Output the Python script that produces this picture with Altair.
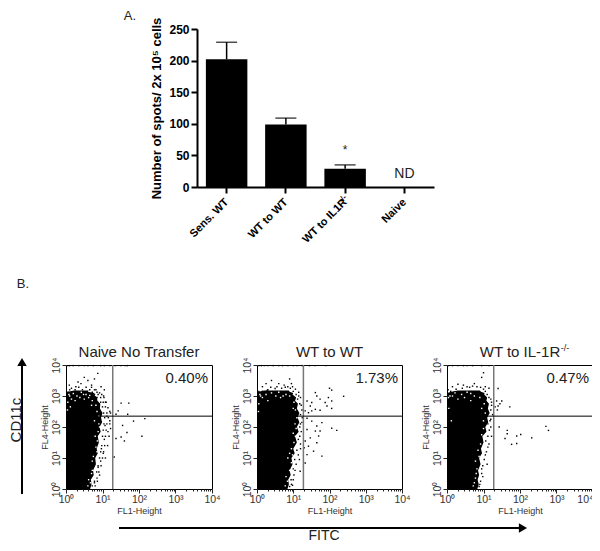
import altair as alt
import pandas as pd

FONT = "Liberation Sans"

# ---------- Panel A ----------
categories = ["Sens. WT", "WT to WT", "WT to IL1R\u00a0\u00a0", "Naive"]
bar_means = [202, 99, 29, 0]
bar_upper = [229, 109, 35, 0]
y_ticks = [0, 50, 100, 150, 200, 250]

# ---------- Panel B: values in log10 units ----------
decades = [1, 10, 100, 1000, 10000]
minor = [m * d for d in [1, 10, 100, 1000] for m in range(1, 10)] + [10000]
gate_x_log = 1.28
gate_y_log = 2.35

cloud_lvl = [0, 0.15, 0.3, 0.45, 0.6, 0.8, 1, 1.15, 1.3, 1.5, 1.7, 1.85, 2, 2.15, 2.3, 2.45, 2.6, 2.75, 2.85, 2.95,
             3.05, 3.1, 3.14, 3.18]
p1_right = [0.66, 0.7, 0.68, 0.76, 0.74, 0.82, 0.8, 0.87, 0.84, 0.9, 0.87, 0.95, 0.92, 0.99, 0.96, 1.0, 0.93, 0.94,
            0.86, 0.85, 0.76, 0.78, 0.6, 0.62]
p1_left = [0] * 22 + [0.05, 0.22]
p2_right = [0.84, 0.88, 0.86, 0.93, 0.9, 0.98, 0.95, 1.04, 1.0, 1.1, 1.05, 1.15, 1.1, 1.17, 1.12, 1.17, 1.1, 1.13,
            1.05, 1.08, 0.98, 1.0, 0.9, 0.88]
p2_left = [0] * 22 + [0.04, 0.2]
p3_right = [0.83, 0.87, 0.84, 0.88, 0.85, 0.92, 0.88, 0.96, 0.93, 1.0, 0.97, 1.08, 1.05, 1.13, 1.1, 1.17, 1.12, 1.15,
            1.08, 1.1, 1.02, 1.03, 0.93, 0.9]
p3_left = [0] * 22 + [0.12, 0.3]

p1_black = [(0.05, 3.98), (0.1, 3.98), (0.2, 3.98), (0.35, 3.98), (0.5, 3.98), (0.6, 3.98), (0.75, 3.98),
            (0.95, 3.98), (1.05, 3.98), (1.2, 3.98), (1.35, 3.98), (1.5, 3.98), (1.62, 3.98), (1.68, 3.98),
            (0.5, 3.6), (0.87, 3.73), (0.6, 3.5), (0.96, 3.3), (0.82, 3.2), (0.27, 3.3), (0.09, 3.35), (0.41, 3.4),
            (1.05, 3.2), (0.7, 3.35), (0.78, 3.55), (0.15, 3.25), (0.33, 3.45), (0.92, 3.1), (1.03, 3.0), (1.08, 2.8),
            (1.15, 2.62), (1.2, 2.5), (1.12, 2.35), (1.2, 2.2), (1.07, 2.05), (1.15, 1.85), (1.05, 1.6), (0.97, 1.3),
            (1.02, 1.15), (0.95, 0.9), (0.88, 0.7), (0.92, 0.45), (0.78, 0.2), (1.22, 1.95), (0.85, 0.35),
            (1.51, 2.77), (1.72, 2.77), (1.69, 2.41), (1.85, 2.19), (2.16, 2.27), (1.55, 2.05), (1.67, 1.82),
            (1.51, 1.68), (1.60, 1.55), (2.08, 1.70), (1.37, 1.63), (1.32, 1.03), (1.37, 2.41), (1.43, 2.52),
            (0.72, 0.1), (0.8, 0.1), (0.78, 0.25), (0.86, 0.25), (0.84, 0.55), (0.9, 0.55), (0.88, 0.75), (0.96, 0.75),
            (0.92, 1.0), (1.0, 1.0), (1.08, 1.0), (0.95, 1.2), (1.03, 1.2), (0.98, 1.4), (1.06, 1.4), (1.14, 1.4),
            (1.0, 1.7), (1.08, 1.7), (1.18, 1.7), (1.02, 1.9), (1.1, 1.9), (1.04, 2.1), (1.12, 2.1), (1.2, 2.1),
            (1.06, 2.3), (1.16, 2.3), (1.03, 2.45), (1.12, 2.45), (1.22, 2.45), (1.0, 2.65), (1.08, 2.65),
            (0.95, 2.8), (1.02, 2.8), (1.1, 2.8), (0.85, 2.95), (0.95, 2.95), (1.04, 2.95), (0.78, 3.05), (0.88, 3.05),
            (0.98, 3.05), (0.05, 3.12), (0.2, 3.12), (0.3, 3.12), (0.72, 3.12), (0.85, 3.12), (0.1, 3.2), (0.25, 3.2),
            (0.45, 3.2), (0.65, 3.2), (0.78, 3.2), (0.35, 3.28), (0.55, 3.28), (0.7, 3.28)]
p1_white = [(0.1, 3.0), (0.2, 3.08), (0.05, 2.8), (0.3, 3.0), (0.42, 3.12), (0.55, 3.05), (0.7, 2.7), (0.85, 2.5),
            (0.9, 2.1), (0.8, 1.7), (0.85, 1.2), (0.72, 0.9), (0.62, 0.3), (0.7, 0.5), (0.5, 2.9), (0.78, 2.2),
            (0.6, 0.1), (0.67, 0.2), (0.72, 0.6), (0.75, 1.05), (0.82, 1.35), (0.86, 1.55), (0.88, 1.85), (0.92, 2.0),
            (0.9, 2.35), (0.82, 2.7), (0.72, 2.85), (0.62, 2.95), (0.15, 2.9), (0.08, 3.05), (0.25, 2.85), (0.38, 2.95),
            (0.48, 3.05), (0.65, 3.02), (0.04, 2.55), (0.12, 2.65)]

p2_black = [(0.05, 3.98), (0.12, 3.98), (0.2, 3.98), (0.3, 3.98), (0.45, 3.98), (0.6, 3.98), (0.7, 3.98),
            (0.85, 3.98), (1.0, 3.98), (1.1, 3.98), (1.25, 3.98), (1.45, 3.98), (1.6, 3.98), (1.9, 3.98),
            (0.25, 3.4), (0.4, 3.5), (0.6, 3.4), (0.75, 3.35), (0.9, 3.55), (0.95, 3.4), (0.85, 3.3), (0.55, 3.3),
            (0.15, 3.3), (0.3, 3.2), (1.15, 3.0), (1.22, 2.7), (1.25, 2.3), (1.2, 2.1), (1.18, 1.7), (1.2, 1.3),
            (1.17, 0.95), (1.05, 0.6), (1.0, 0.3), (0.95, 0.15),
            (2.0, 3.25), (2.06, 3.19), (2.39, 2.99), (1.97, 2.95), (2.06, 2.84), (1.61, 3.11), (1.65, 3.0), (1.74, 2.9),
            (1.38, 2.84), (1.51, 2.79), (1.88, 2.79), (1.47, 2.68), (1.61, 2.57), (1.74, 2.54), (2.06, 2.6), (1.33, 2.52),
            (1.42, 2.46), (1.51, 2.52), (1.93, 2.68), (1.38, 2.28), (1.51, 2.19), (1.65, 2.03), (1.79, 2.14), (2.06, 1.96),
            (2.2, 1.89), (1.38, 1.92), (1.61, 1.87), (1.74, 1.87), (1.47, 1.65), (1.7, 1.71), (1.33, 1.55), (1.42, 1.38),
            (1.65, 1.49), (1.38, 1.11), (1.79, 1.06), (1.56, 1.22), (1.33, 0.84), (1.19, 0.57), (1.3, 1.33),
            (0.9, 0.08), (0.98, 0.12), (0.94, 0.3), (1.02, 0.45), (1.0, 0.65), (1.08, 0.8), (1.04, 0.95), (1.14, 1.1),
            (1.1, 1.25), (1.2, 1.45), (1.14, 1.6), (1.22, 1.85), (1.18, 2.0), (1.24, 2.15), (1.2, 2.4), (1.24, 2.55),
            (1.18, 2.75), (1.12, 2.9), (1.2, 2.95), (1.08, 3.05), (1.15, 3.12), (1.0, 3.15), (1.06, 3.22), (0.92, 3.25),
            (0.98, 3.3), (0.05, 3.15), (0.15, 3.15), (0.28, 3.18), (0.38, 3.28), (0.5, 3.24), (0.68, 3.25), (0.78, 3.28)]
p2_white = [(0.1, 3.0), (0.25, 3.05), (0.05, 2.75), (0.4, 3.1), (0.6, 3.12), (0.8, 3.05), (1.0, 2.6), (1.05, 2.1),
            (1.0, 1.8), (0.95, 1.3), (0.85, 1.0), (0.9, 0.6), (0.95, 0.85), (0.8, 0.4), (0.3, 2.85), (0.65, 2.95),
            (0.78, 0.1), (0.84, 0.25), (1.02, 1.5), (1.06, 1.7), (1.08, 1.95), (1.1, 2.3), (1.06, 2.55), (1.02, 2.8),
            (0.9, 3.0), (0.15, 2.95), (0.08, 3.05), (0.52, 3.0), (0.72, 3.0), (0.9, 1.15), (0.98, 1.1), (0.04, 2.5)]

p3_black = [(0.05, 3.98), (0.15, 3.98), (0.3, 3.98), (0.45, 3.98), (0.55, 3.98), (0.7, 3.98), (0.95, 3.98), (1.15, 3.98),
            (0.15, 3.3), (0.3, 3.38), (0.45, 3.35), (0.55, 3.3), (0.75, 3.4), (0.95, 3.6), (1.0, 3.75), (1.05, 3.3),
            (1.15, 3.25), (1.2, 2.9), (1.22, 2.7), (1.25, 2.4), (1.18, 2.2), (1.2, 2.0), (1.22, 1.7), (1.15, 1.45),
            (1.05, 1.1), (0.95, 0.65), (0.98, 0.4), (0.9, 0.15), (1.1, 0.8),
            (1.4, 3.24), (1.5, 2.84), (1.36, 2.84), (1.4, 2.68), (1.72, 2.65), (1.38, 2.55), (1.43, 2.0), (1.65, 1.89),
            (1.65, 1.78), (1.59, 1.63), (1.91, 1.71), (2.02, 1.76), (2.32, 1.65), (1.77, 1.44), (1.91, 1.47), (2.71, 2.02),
            (2.78, 1.89), (1.32, 2.65), (1.45, 2.75),
            (0.88, 0.08), (0.92, 0.25), (0.95, 0.5), (0.98, 0.75), (1.02, 0.95), (1.08, 1.2), (1.12, 1.35), (1.06, 1.55),
            (1.12, 1.7), (1.16, 1.9), (1.12, 2.1), (1.2, 2.25), (1.2, 2.55), (1.22, 2.8), (1.15, 2.95), (1.1, 3.05),
            (1.05, 3.15), (1.0, 3.22), (0.92, 3.28), (0.82, 3.3), (0.7, 3.32), (0.62, 3.28), (0.42, 3.25), (0.25, 3.22),
            (0.1, 3.15), (0.2, 3.12), (0.03, 3.2)]
p3_white = [(0.08, 3.0), (0.22, 3.1), (0.05, 2.6), (0.4, 3.05), (0.55, 3.12), (0.75, 3.0), (0.95, 2.6), (1.0, 2.2),
            (0.95, 1.75), (0.85, 1.25), (0.78, 0.9), (0.8, 0.5), (0.75, 0.2), (0.3, 2.9), (0.65, 2.85), (0.12, 2.2),
            (0.82, 0.65), (0.88, 1.05), (0.92, 1.45), (1.0, 1.95), (1.05, 2.45), (1.02, 2.75), (0.9, 2.95), (0.65, 3.08),
            (0.15, 3.0), (0.04, 2.95), (0.48, 2.95), (0.72, 0.1), (0.78, 0.35)]

panels = [
    dict(title="Naive No Transfer", pct="0.40%", w=146, lvl=cloud_lvl, right=p1_right, left=p1_left,
         black=p1_black, white=p1_white, flush=False),
    dict(title="WT to WT", pct="1.73%", w=145, lvl=cloud_lvl, right=p2_right, left=p2_left,
         black=p2_black, white=p2_white, flush=False),
    dict(title="WT to IL-1R", pct="0.47%", w=146, lvl=cloud_lvl, right=p3_right, left=p3_left,
         black=p3_black, white=p3_white, flush=True),
]

one = pd.DataFrame({"a": [0]})


def annotation(text, x, y, **kw):
    opts = dict(font=FONT, fontSize=13, color="#222")
    opts.update(kw)
    return alt.Chart(one).mark_text(**opts).encode(
        x=alt.value(x), y=alt.value(y), text=alt.value(text))


# ---------- bars ----------
bar_df = pd.DataFrame({"cat": categories, "mean": bar_means, "upper": bar_upper})
x_scale = alt.Scale(paddingInner=0.3, paddingOuter=0.15)
x_axis_a = alt.Axis(labelAngle=-45, labelFontWeight="bold", labelFontSize=11, labelFont=FONT,
                    labelColor="black", domainWidth=2, domainColor="black", tickWidth=2,
                    tickColor="black", tickSize=6, labelPadding=3, labelOverlap=False, labelOffset=-4)
x_enc = alt.X("cat:N", sort=categories, title=None, scale=x_scale, axis=x_axis_a)
y_scale = alt.Scale(domain=[0, 250])
y_title = "Number of spots/ 2x 10\u2075 cells"
y_axis_a = alt.Axis(values=y_ticks, grid=False, labelFontWeight="bold", labelFontSize=12, labelFont=FONT,
                    labelColor="black", domainWidth=2, domainColor="black", tickWidth=2, labelOverlap=False,
                    tickColor="black", tickSize=6, titleFont=FONT, titleFontSize=13,
                    titleFontWeight="bold", titleColor="black", titlePadding=5)


def y_of(field):
    return alt.Y(field, scale=y_scale, title=y_title, axis=y_axis_a)


bars = alt.Chart(bar_df).mark_bar(color="black").encode(x=x_enc, y=y_of("mean:Q"))
err_df = bar_df[bar_df["upper"] > 0]
err = alt.Chart(err_df).mark_rule(color="black", strokeWidth=1.5).encode(
    x=x_enc, y=y_of("mean:Q"), y2="upper:Q")
caps = alt.Chart(err_df).mark_tick(color="black", thickness=1.5, size=21).encode(
    x=x_enc, y=y_of("upper:Q"))
notes = pd.DataFrame({"cat": [categories[2], categories[3]], "lab": ["*", "ND"], "val": [59, 21]})
note_star = alt.Chart(notes.iloc[[0]]).mark_text(font=FONT, fontSize=12, color="#222").encode(
    x=x_enc, y=y_of("val:Q"), text="lab:N")
note_nd = alt.Chart(notes.iloc[[1]]).mark_text(font=FONT, fontSize=14, color="#222").encode(
    x=x_enc, y=y_of("val:Q"), text="lab:N")
sup_bar = alt.Chart(one).mark_text(font=FONT, fontSize=8, fontWeight="bold", angle=315, color="black").encode(
    x=alt.value(146), y=alt.value(170), text=alt.value("-/-"))
chart_a = alt.layer(bars, err, caps, note_star, note_nd, sup_bar,
                    annotation("A.", -67, -13, fontSize=13)).properties(width=237, height=158)

spacer = alt.Chart(one).mark_text(opacity=0).encode(text=alt.value("")).properties(width=131, height=158)
top_row = alt.hconcat(spacer, chart_a, spacing=0, bounds="flush")


# ---------- flow panels ----------
is_major = "indexof([1, 10, 100, 1000, 10000], datum.value) >= 0"
label_expr = ("datum.value == 1 ? '10\u2070' : datum.value == 10 ? '10\u00b9' : datum.value == 100 ? '10\u00b2' : "
              "datum.value == 1000 ? '10\u00b3' : datum.value == 10000 ? '10\u2074' : ''")


def flow_panel(p, extras):
    log_x = alt.Scale(type="log", domain=[1, 10000], nice=False)
    log_y = alt.Scale(type="log", domain=[1, 10000], nice=False)
    x_kw = dict(labelAlign={"condition": {"test": "datum.value == 10000", "value": "right"}, "value": "center"}) if p["flush"] else {}
    x_axis = alt.Axis(values=minor, labelExpr=label_expr, grid=False, domain=False, labelFontSize=10.5, labelFont=FONT,
                      labelColor="#333", tickColor="#222", labelOverlap=False, labelFlush=False, labelPadding=1,
                      tickSize={"condition": {"test": is_major, "value": 4}, "value": 2},
                      title="FL1-Height", titleFontSize=9, titleFontWeight="normal", titleFont=FONT,
                      titleColor="#333", titlePadding=2, **x_kw)
    y_axis = alt.Axis(values=decades, labelExpr=label_expr, grid=False, domain=False, labelFontSize=10.5, labelFont=FONT,
                      labelColor="#333", tickColor="#222", labelAngle=270, labelAlign="center", labelBaseline="bottom",
                      labelOverlap=False, labelFlush=False, labelPadding=1, tickSize=4,
                      title="FL4-Height", titleFontSize=9, titleFontWeight="normal", titleFont=FONT,
                      titleColor="#333", titlePadding=2)
    env = pd.DataFrame({
        "lvl": [10 ** v for v in p["lvl"]],
        "right": [10 ** v for v in p["right"]],
        "left": [10 ** v for v in p["left"]],
    })
    area = alt.Chart(env).mark_area(color="black", orient="horizontal", interpolate="linear").encode(
        x=alt.X("right:Q", scale=log_x, axis=x_axis),
        x2="left:Q",
        y=alt.Y("lvl:Q", scale=log_y, axis=y_axis, sort=None),
    )
    blacks = pd.DataFrame({"x": [10 ** v[0] for v in p["black"]], "y": [10 ** v[1] for v in p["black"]]})
    whites = pd.DataFrame({"x": [10 ** v[0] for v in p["white"]], "y": [10 ** v[1] for v in p["white"]]})
    b_pts = alt.Chart(blacks).mark_square(color="black", size=2, opacity=1).encode(
        x=alt.X("x:Q", scale=log_x), y=alt.Y("y:Q", scale=log_y))
    w_pts = alt.Chart(whites).mark_square(color="white", size=2, opacity=1).encode(
        x=alt.X("x:Q", scale=log_x), y=alt.Y("y:Q", scale=log_y))
    gate_v = alt.Chart(pd.DataFrame({"g": [10 ** gate_x_log]})).mark_rule(color="#777", strokeWidth=1.5).encode(
        x=alt.X("g:Q", scale=log_x))
    gate_h = alt.Chart(pd.DataFrame({"g": [10 ** gate_y_log]})).mark_rule(color="black", strokeWidth=1).encode(
        y=alt.Y("g:Q", scale=log_y))
    title = annotation(p["title"], p["w"] / 2, -13, fontSize=15)
    pct = annotation(p["pct"], p["w"] - 4, 13, fontSize=15, align="right")
    return alt.layer(area, b_pts, w_pts, gate_v, gate_h, title, pct, *extras).properties(
        width=p["w"], height=124, view=alt.ViewConfig(stroke="black", strokeWidth=1))


arrows = [
    alt.Chart(one).mark_rule(color="black", strokeWidth=2).encode(
        x=alt.value(-44), y=alt.value(0), y2=alt.value(129)),
    alt.Chart(one).mark_point(shape="triangle-up", filled=True, color="black", size=90, opacity=1).encode(
        x=alt.value(-44), y=alt.value(-3)),
    alt.Chart(one).mark_rule(color="black", strokeWidth=2).encode(
        x=alt.value(53), x2=alt.value(455), y=alt.value(163)),
    alt.Chart(one).mark_point(shape="triangle-right", filled=True, color="black", size=90, opacity=1).encode(
        x=alt.value(457), y=alt.value(163)),
    annotation("CD11c", -50, 55, fontSize=15, angle=270),
    annotation("FITC", 258, 171, fontSize=14),
    annotation("B.", -43, -81, fontSize=13),
]
sup_title = [annotation("-/-", 118, -17, fontSize=9)]

flow_row = alt.hconcat(flow_panel(panels[0], arrows), flow_panel(panels[1], []),
                       flow_panel(panels[2], sup_title), spacing=45, bounds="flush")

chart = alt.vconcat(top_row, flow_row, spacing=336, bounds="flush").properties(
    padding={"left": 0, "right": -2, "top": 2, "bottom": -4}).configure_view(stroke=None)

chart.save("out.html", embed_options={"renderer": "svg", "actions": False})
